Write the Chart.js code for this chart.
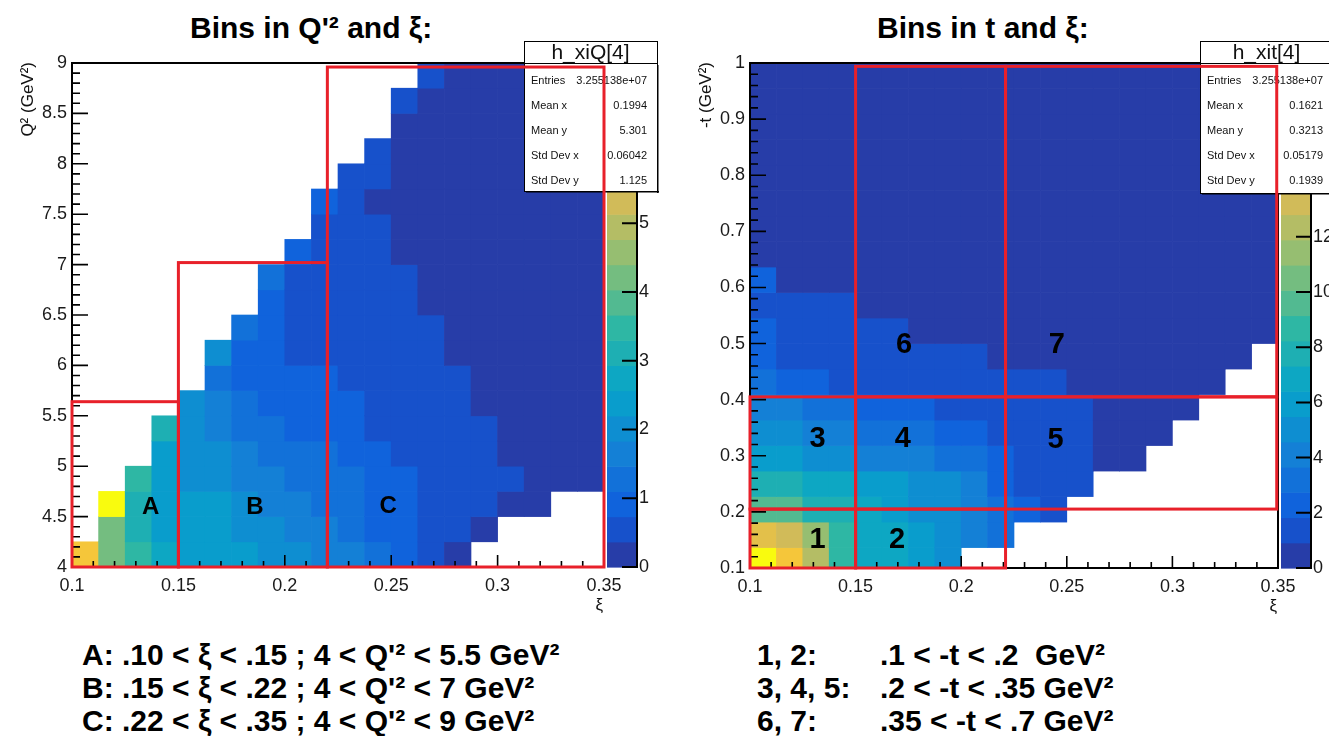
<!DOCTYPE html>
<html>
<head>
<meta charset="utf-8">
<script src="https://cdn.jsdelivr.net/npm/chart.js"></script>
<style>
html,body{margin:0;padding:0;background:#fff;}
body{width:1329px;height:736px;position:relative;overflow:hidden;font-family:"Liberation Sans",Arial,Helvetica,sans-serif;color:#000;}
canvas{position:absolute;top:0;}
.ttl{position:absolute;top:11px;font-weight:bold;font-size:30px;line-height:34px;white-space:nowrap;}
.note{position:absolute;top:638px;font-weight:bold;font-size:30px;line-height:33px;white-space:nowrap;}
</style>
</head>
<body>
<div class="ttl" style="left:190px">Bins in Q'² and ξ:</div>
<div class="ttl" style="left:877px">Bins in t and ξ:</div>
<canvas id="cL" width="665" height="625" style="left:0px"></canvas>
<canvas id="cR" width="664" height="625" style="left:665px"></canvas>
<div class="note" style="left:82px">A: .10 &lt; ξ &lt; .15 ; 4 &lt; Q'² &lt; 5.5 GeV²<br>B: .15 &lt; ξ &lt; .22 ; 4 &lt; Q'² &lt; 7 GeV²<br>C: .22 &lt; ξ &lt; .35 ; 4 &lt; Q'² &lt; 9 GeV²</div>
<div class="note" style="left:757px">1, 2:<br>3, 4, 5:<br>6, 7:</div>
<div class="note" style="left:880px">.1 &lt; -t &lt; .2&nbsp; GeV²<br>.2 &lt; -t &lt; .35 GeV²<br>.35 &lt; -t &lt; .7 GeV²</div>
<script>
// ===================== DATA =====================
// binning (xi bins shared by both histograms)
const xiBinStart = 0.1;
const xiBinWidth = 0.0125;
const q2BinStart = 4;
const q2BinWidth = 0.25;
const tBinStart = 2 / 22;
const tBinWidth = 1 / 22;

// tick labels
const xiTicks = [0.1, 0.15, 0.2, 0.25, 0.3, 0.35];
const q2Ticks = [4, 4.5, 5, 5.5, 6, 6.5, 7, 7.5, 8, 8.5, 9];
const tTicks = [0.1, 0.2, 0.3, 0.4, 0.5, 0.6, 0.7, 0.8, 0.9, 1];
const q2ZTicks = [0, 1, 2, 3, 4, 5, 6, 7];
const tZTicks = [0, 2, 4, 6, 8, 10, 12, 14, 16, 18];
const q2ZMax = 7.33;
const tZMax = 18.3;

// h_xiQ[4]: counts per xi bin (one array per xi column, Q'2 bins from 4 upward), null = empty
const q2Counts = [
  [6.05],
  [4.25, 4.20, 7.33],
  [3.50, 3.15, 3.12, 3.52],
  [2.78, 2.44, 2.40, 2.41, 2.43, 3.15],
  [2.44, 2.40, 2.40, 2.06, 2.03, 2.02, 2.05],
  [2.45, 2.42, 2.40, 2.06, 2.02, 1.70, 1.66, 1.30, 2.03],
  [2.42, 2.06, 2.02, 1.70, 1.66, 1.32, 1.28, 0.95, 0.93, 1.30],
  [2.08, 2.02, 1.70, 1.66, 1.32, 1.28, 0.96, 0.93, 0.91, 0.90, 0.92, 1.30],
  [2.05, 1.70, 1.66, 1.32, 1.28, 0.97, 0.94, 0.90, 0.70, 0.66, 0.62, 0.58, 0.95],
  [1.70, 1.66, 1.33, 1.30, 1.27, 0.97, 0.93, 0.90, 0.70, 0.66, 0.62, 0.58, 0.54, 0.50, 0.80],
  [1.68, 1.35, 1.30, 1.25, 0.98, 0.93, 0.88, 0.70, 0.66, 0.63, 0.60, 0.57, 0.53, 0.50, 0.47, 0.45],
  [1.30, 0.98, 0.93, 0.88, 0.78, 0.70, 0.66, 0.62, 0.59, 0.56, 0.53, 0.50, 0.47, 0.42, 0.34, 0.44, 0.45],
  [0.95, 0.90, 0.86, 0.80, 0.70, 0.66, 0.63, 0.60, 0.57, 0.53, 0.48, 0.43, 0.35, 0.33, 0.31, 0.29, 0.27, 0.30, 0.41],
  [0.62, 0.60, 0.58, 0.56, 0.54, 0.52, 0.50, 0.47, 0.44, 0.40, 0.35, 0.33, 0.31, 0.29, 0.27, 0.25, 0.23, 0.21, 0.20, 0.39],
  [0.21, 0.52, 0.58, 0.55, 0.49, 0.46, 0.44, 0.40, 0.33, 0.30, 0.27, 0.24, 0.22, 0.20, 0.18, 0.16, 0.14, 0.12, 0.11, 0.10],
  [null, 0.20, 0.45, 0.43, 0.40, 0.38, 0.34, 0.31, 0.28, 0.25, 0.23, 0.21, 0.19, 0.17, 0.15, 0.13, 0.12, 0.10, 0.09, 0.08],
  [null, null, 0.24, 0.39, 0.33, 0.31, 0.29, 0.26, 0.24, 0.22, 0.20, 0.18, 0.16, 0.14, 0.13, 0.11, 0.10, 0.09, 0.08, 0.07],
  [null, null, 0.15, 0.31, 0.30, 0.28, 0.25, 0.23, 0.21, 0.19, 0.17, 0.15, 0.14, 0.12, 0.11, 0.10, 0.09, 0.08, 0.07, 0.06],
  [null, null, null, 0.18, 0.26, 0.24, 0.22, 0.20, 0.18, 0.17, 0.15, 0.14, 0.12, 0.11, 0.10, 0.09, 0.08, 0.07, 0.06, 0.05],
  [null, null, null, 0.12, 0.20, 0.20, 0.19, 0.17, 0.16, 0.15, 0.13, 0.12, 0.11, 0.10, 0.09, 0.08, 0.07, 0.06, 0.05, 0.05]
];

// h_xit[4]: counts per xi bin (-t bins of width 1/22 starting at 2/22), null = empty
const tCounts = [
  [18.3, 14.2, 9.61, 7.78, 5.95, 5.03, 4.12, 3.2, 2.29, 2.25, 1.37, 2.2, 0.8, 0.7, 0.62, 0.55, 0.5, 0.45, 0.4, 0.36],
  [15.1, 13.3, 9.5, 7.7, 5.9, 5.0, 4.1, 2.3, 1.4, 1.35, 1.3, 0.85, 0.75, 0.66, 0.58, 0.52, 0.46, 0.41, 0.37, 0.33],
  [12.4, 11.4, 7.8, 6.9, 5.0, 4.1, 3.2, 2.3, 1.4, 1.35, 1.3, 0.8, 0.7, 0.62, 0.55, 0.49, 0.44, 0.4, 0.36, 0.32],
  [8.7, 8.6, 7.75, 6.85, 5.05, 4.1, 3.2, 1.4, 1.35, 1.3, 1.25, 0.75, 0.66, 0.58, 0.52, 0.46, 0.41, 0.37, 0.33, 0.3],
  [6.9, 6.85, 6.8, 5.95, 4.15, 3.25, 2.3, 1.4, 1.35, 1.3, 0.8, 0.7, 0.62, 0.55, 0.49, 0.44, 0.4, 0.36, 0.32, 0.29],
  [6.8, 6.75, 5.95, 5.9, 4.1, 3.2, 2.3, 1.35, 1.3, 1.25, 0.75, 0.66, 0.58, 0.52, 0.46, 0.41, 0.37, 0.33, 0.3, 0.27],
  [5.95, 5.9, 5.05, 5.0, 4.1, 3.2, 2.3, 1.35, 1.3, 0.85, 0.72, 0.63, 0.56, 0.5, 0.45, 0.4, 0.36, 0.32, 0.29, 0.26],
  [5.05, 5.0, 4.95, 4.9, 3.2, 2.3, 1.35, 1.3, 1.25, 0.8, 0.68, 0.6, 0.53, 0.47, 0.42, 0.38, 0.34, 0.31, 0.28, 0.25],
  [null, 4.15, 4.1, 4.05, 3.2, 2.3, 1.35, 1.3, 1.2, 0.78, 0.66, 0.58, 0.51, 0.45, 0.4, 0.36, 0.33, 0.3, 0.27, 0.24],
  [null, 3.25, 3.2, 2.3, 2.25, 1.4, 1.35, 1.3, 0.8, 0.7, 0.62, 0.55, 0.49, 0.44, 0.39, 0.35, 0.32, 0.29, 0.26, 0.23],
  [null, null, 2.3, 1.45, 1.4, 1.35, 1.3, 1.25, 0.75, 0.66, 0.58, 0.52, 0.46, 0.41, 0.37, 0.33, 0.3, 0.27, 0.24, 0.22],
  [null, null, 1.3, 1.4, 1.35, 1.3, 1.25, 1.2, 0.7, 0.62, 0.55, 0.49, 0.44, 0.39, 0.35, 0.32, 0.29, 0.26, 0.23, 0.21],
  [null, null, null, 1.1, 1.2, 1.15, 1.1, 0.85, 0.65, 0.58, 0.52, 0.46, 0.41, 0.37, 0.33, 0.3, 0.27, 0.24, 0.22, 0.2],
  [null, null, null, null, 0.5, 0.8, 0.75, 0.7, 0.62, 0.55, 0.49, 0.44, 0.4, 0.36, 0.32, 0.29, 0.26, 0.24, 0.21, 0.19],
  [null, null, null, null, 0.3, 0.7, 0.68, 0.64, 0.58, 0.52, 0.46, 0.42, 0.38, 0.34, 0.31, 0.28, 0.25, 0.23, 0.2, 0.18],
  [null, null, null, null, null, 0.4, 0.6, 0.56, 0.5, 0.45, 0.41, 0.37, 0.33, 0.3, 0.27, 0.24, 0.22, 0.2, 0.18, 0.16],
  [null, null, null, null, null, null, 0.35, 0.5, 0.46, 0.42, 0.38, 0.34, 0.31, 0.28, 0.25, 0.23, 0.21, 0.19, 0.17, 0.15],
  [null, null, null, null, null, null, null, 0.3, 0.42, 0.39, 0.35, 0.32, 0.29, 0.26, 0.24, 0.22, 0.2, 0.18, 0.16, 0.15],
  [null, null, null, null, null, null, null, null, 0.25, 0.36, 0.33, 0.3, 0.27, 0.25, 0.23, 0.21, 0.19, 0.17, 0.15, 0.14],
  [null, null, null, null, null, null, null, null, null, 0.2, 0.3, 0.28, 0.26, 0.24, 0.22, 0.2, 0.18, 0.16, 0.15, 0.13]
];

// statistics boxes
const q2StatsTitle = "h_xiQ[4]";
const q2Stats = [["Entries", "3.255138e+07"], ["Mean x", "0.1994"], ["Mean y", "5.301"], ["Std Dev x", "0.06042"], ["Std Dev y", "1.125"]];
const tStatsTitle = "h_xit[4]";
const tStats = [["Entries", "3.255138e+07"], ["Mean x", "0.1621"], ["Mean y", "0.3213"], ["Std Dev x", "0.05179"], ["Std Dev y", "0.1939"]];

// analysis bins (red boxes) and their labels, in data coordinates
const q2RegionNames = ["A", "B", "C"];
const q2RegionXi = [[0.1, 0.15], [0.15, 0.22], [0.22, 0.35]];
const q2RegionQ2 = [[4, 5.64], [4, 7.02], [4, 8.96]];
const q2LabelXi = [0.137, 0.186, 0.2486];
const q2LabelQ2 = [4.61, 4.61, 4.62];

const tRegionNames = ["1", "2", "3", "4", "5", "6", "7"];
const tRegionXi = [[0.1, 0.15], [0.15, 0.221], [0.1, 0.15], [0.15, 0.221], [0.221, 0.3494], [0.15, 0.221], [0.221, 0.3494]];
const tRegionT = [[0.1, 0.205], [0.1, 0.205], [0.205, 0.405], [0.205, 0.405], [0.205, 0.405], [0.405, 0.994], [0.405, 0.994]];
const tLabelXi = [0.132, 0.1696, 0.132, 0.1724, 0.2447, 0.1729, 0.2453];
const tLabelT = [0.1535, 0.1535, 0.3347, 0.3343, 0.3325, 0.5016, 0.501];

// ===================== PALETTE (ROOT kBird, 20 contours) =====================
const FONT = '"Liberation Sans", Arial, sans-serif';
const birdS = [0.0, 0.125, 0.25, 0.375, 0.5, 0.625, 0.75, 0.875, 1.0];
const birdR = [0.2082, 0.0592, 0.0780, 0.0232, 0.1802, 0.5301, 0.8186, 0.9956, 0.9764];
const birdG = [0.1664, 0.3599, 0.5041, 0.6419, 0.7178, 0.7492, 0.7328, 0.7862, 0.9832];
const birdB = [0.5293, 0.8684, 0.8385, 0.7914, 0.6425, 0.4662, 0.3499, 0.1968, 0.0539];
function bird(t) {
  for (let k = 1; k < birdS.length; k++) {
    if (t <= birdS[k] + 1e-9) {
      const f = (t - birdS[k - 1]) / (birdS[k] - birdS[k - 1]);
      const c = (arr) => Math.round(255 * (arr[k - 1] + (arr[k] - arr[k - 1]) * f));
      return 'rgb(' + c(birdR) + ',' + c(birdG) + ',' + c(birdB) + ')';
    }
  }
  return 'rgb(249,251,14)';
}
const NCONT = 20;
function levelOf(v, zmax) { return Math.max(0, Math.min(NCONT - 1, Math.floor(0.01 + v / zmax * NCONT))); }
function levelColor(L) { const idx = Math.min(254, Math.floor((L + 0.99) * 255 / NCONT)); return bird(idx / 254); }

function buildCells(cols, x0, dx, y0, dy) {
  const out = [];
  cols.forEach((col, i) => col.forEach((v, j) => {
    if (v === null) return;
    out.push({ x: x0 + (i + 0.5) * dx, y: [y0 + j * dy, y0 + (j + 1) * dy], v: v });
  }));
  return out;
}
const fmt = (v) => String(+Number(v).toFixed(4));

// ===================== DECORATION (ROOT-style frame, palette, stats, boxes) =====================
function drawDecor(chart, cfg) {
  const ctx = chart.ctx, a = chart.chartArea;
  const xs = chart.scales.x, ys = chart.scales.y, zs = chart.scales.z;
  ctx.save();
  // inward tick marks
  ctx.strokeStyle = '#000';
  ctx.lineWidth = 1.6;
  ctx.beginPath();
  for (let k = 0; ; k++) {
    const v = cfg.xMin + k * cfg.xMinor;
    if (v > cfg.xMax + 1e-9) break;
    const px = xs.getPixelForValue(v), len = (k % 5 === 0) ? 12 : 6;
    ctx.moveTo(px, a.bottom); ctx.lineTo(px, a.bottom - len);
  }
  for (let k = 0; ; k++) {
    const v = cfg.yMin + k * cfg.yMinor;
    if (v > cfg.yMax + 1e-9) break;
    const py = ys.getPixelForValue(v), len = (k % 5 === 0) ? 16 : 8;
    ctx.moveTo(a.left, py); ctx.lineTo(a.left + len, py);
  }
  ctx.stroke();
  // frame
  ctx.lineWidth = 2;
  ctx.strokeRect(a.left, a.top, a.right - a.left, a.bottom - a.top);

  // palette (colour bar)
  const cb0 = a.right + 3, cbw = 30;
  for (let L = 0; L < NCONT; L++) {
    const y1 = zs.getPixelForValue(L * cfg.zmax / NCONT), y2 = zs.getPixelForValue((L + 1) * cfg.zmax / NCONT);
    ctx.fillStyle = levelColor(L);
    ctx.fillRect(cb0, y2, cbw, y1 - y2 + 0.6);
  }
  ctx.beginPath();
  ctx.lineWidth = 2;
  ctx.moveTo(cb0 + cbw, a.top); ctx.lineTo(cb0 + cbw, a.bottom + 1);
  cfg.zTicks.forEach((v) => { const py = zs.getPixelForValue(v); ctx.moveTo(cb0 + cbw - 15, py); ctx.lineTo(cb0 + cbw, py); });
  ctx.stroke();

  // axis titles
  ctx.fillStyle = '#111';
  ctx.font = '17px ' + FONT;
  ctx.textAlign = 'right'; ctx.textBaseline = 'alphabetic';
  ctx.fillText('ξ', a.right - 1, a.bottom + 43);
  ctx.save();
  ctx.translate(cfg.yTitleX, a.top - 1);
  ctx.rotate(-Math.PI / 2);
  ctx.textAlign = 'right'; ctx.textBaseline = 'middle';
  ctx.fillText(cfg.yTitle, 0, 0);
  ctx.restore();

  // statistics box
  const s = cfg.stats;
  ctx.fillStyle = '#fff';
  ctx.fillRect(s.x, s.y, s.w, s.th + s.h);
  ctx.fillStyle = '#000';
  ctx.fillRect(s.x + 2, s.y + s.th + s.h, s.w, 1.5);
  ctx.fillRect(s.x + s.w, s.y + s.th + 2, 1.5, s.h);
  ctx.lineWidth = 1;
  ctx.strokeStyle = '#000';
  ctx.strokeRect(s.x + 0.5, s.y + 0.5, s.w, s.th);
  ctx.strokeRect(s.x + 0.5, s.y + s.th + 0.5, s.w, s.h);
  ctx.fillStyle = '#111';
  ctx.font = '21px ' + FONT;
  ctx.textAlign = 'center'; ctx.textBaseline = 'middle';
  ctx.fillText(s.title, s.x + s.w / 2, s.y + s.th / 2 + 1);
  ctx.font = '11px ' + FONT;
  s.rows.forEach((r, k) => {
    const yy = s.y + s.th + 18 + k * 25;
    ctx.textAlign = 'left'; ctx.fillText(r[0], s.x + 7, yy);
    ctx.textAlign = 'right'; ctx.fillText(r[1], s.x + s.w - 10, yy);
  });

  // analysis bins (red boxes)
  ctx.strokeStyle = '#e8202a';
  ctx.lineWidth = 3;
  cfg.boxX.forEach((bx, k) => {
    const by = cfg.boxY[k];
    const x1 = xs.getPixelForValue(bx[0]), x2 = xs.getPixelForValue(bx[1]);
    const y1 = ys.getPixelForValue(by[0]), y2 = ys.getPixelForValue(by[1]);
    ctx.strokeRect(x1, y2, x2 - x1, y1 - y2);
  });
  // labels
  ctx.fillStyle = '#000';
  ctx.font = 'bold ' + cfg.labelSize + 'px ' + FONT;
  ctx.textAlign = 'center'; ctx.textBaseline = 'alphabetic';
  cfg.labels.forEach((t, k) => {
    const px = xs.getPixelForValue(cfg.labelX[k]), py = ys.getPixelForValue(cfg.labelY[k]);
    ctx.fillText(t, px, py + 0.358 * cfg.labelSize);
  });
  ctx.restore();
}

function makeChart(id, cfg) {
  const tickFont = { family: FONT, size: 18 };
  const fixTicks = (arr) => (scale) => { scale.ticks = arr.map((v) => ({ value: v })); };
  return new Chart(document.getElementById(id), {
    type: 'bar',
    data: {
      datasets: [{
        data: buildCells(cfg.counts, xiBinStart, xiBinWidth, cfg.yBinStart, cfg.yBinWidth),
        backgroundColor: (c) => (c.raw ? levelColor(levelOf(c.raw.v, cfg.zmax)) : '#fff'),
        borderWidth: 0,
        barPercentage: 1,
        categoryPercentage: 1,
        clip: 0
      }]
    },
    options: {
      responsive: false,
      animation: false,
      events: [],
      layout: { padding: { top: 63, left: 0, right: 0, bottom: 0 } },
      plugins: { legend: { display: false }, tooltip: { enabled: false }, title: { display: false } },
      scales: {
        x: {
          type: 'linear', position: 'bottom', min: cfg.xMin, max: cfg.xMax, offset: false,
          grid: { display: false, drawTicks: false, offset: false }, border: { display: false },
          afterBuildTicks: fixTicks(xiTicks),
          ticks: { padding: 8, font: tickFont, color: '#1a1a1a', maxRotation: 0, autoSkip: false, callback: (v) => fmt(v) },
          afterFit: (s) => { s.height = cfg.xAxisH; }
        },
        y: {
          type: 'linear', position: 'left', min: cfg.yMin, max: cfg.yMax,
          grid: { display: false, drawTicks: false }, border: { display: false },
          afterBuildTicks: fixTicks(cfg.yTicks),
          ticks: { padding: 5, font: tickFont, color: '#1a1a1a', autoSkip: false, callback: (v) => fmt(v) },
          afterFit: (s) => { s.width = cfg.yAxisW; }
        },
        z: {
          type: 'linear', axis: 'y', position: 'right', min: 0, max: cfg.zmax,
          grid: { display: false, drawTicks: false }, border: { display: false },
          afterBuildTicks: fixTicks(cfg.zTicks),
          ticks: { padding: 35, font: tickFont, color: '#1a1a1a', autoSkip: false, callback: (v) => fmt(v) },
          afterFit: (s) => { s.width = cfg.zAxisW; }
        }
      }
    },
    plugins: [{ id: 'rootDecor', afterDraw: (chart) => drawDecor(chart, cfg) }]
  });
}

makeChart('cL', {
  counts: q2Counts, yBinStart: q2BinStart, yBinWidth: q2BinWidth,
  xMin: 0.1, xMax: 0.35, xMinor: 0.01,
  yMin: 4, yMax: 9, yMinor: 0.1, yTicks: q2Ticks,
  zmax: q2ZMax, zTicks: q2ZTicks,
  yAxisW: 72, zAxisW: 61, xAxisH: 58,
  yTitle: 'Q² (GeV²)', yTitleX: 28,
  stats: { x: 524, y: 41, w: 133, th: 22, h: 128, title: q2StatsTitle, rows: q2Stats },
  boxX: q2RegionXi, boxY: q2RegionQ2,
  labels: q2RegionNames, labelX: q2LabelXi, labelY: q2LabelQ2, labelSize: 24
});

makeChart('cR', {
  counts: tCounts, yBinStart: tBinStart, yBinWidth: tBinWidth,
  xMin: 0.1, xMax: 0.35, xMinor: 0.01,
  yMin: 0.1, yMax: 1, yMinor: 0.02, yTicks: tTicks,
  zmax: tZMax, zTicks: tZTicks,
  yAxisW: 85, zAxisW: 51, xAxisH: 57,
  yTitle: '-t (GeV²)', yTitleX: 41,
  stats: { x: 535, y: 41, w: 133, th: 22, h: 130, title: tStatsTitle, rows: tStats },
  boxX: tRegionXi, boxY: tRegionT,
  labels: tRegionNames, labelX: tLabelXi, labelY: tLabelT, labelSize: 29
});
</script>
</body>
</html>
